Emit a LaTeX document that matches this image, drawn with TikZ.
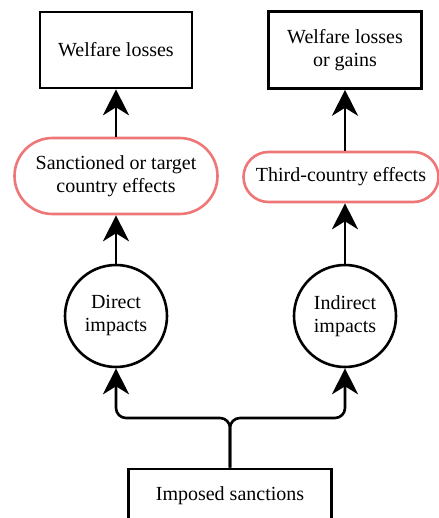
\documentclass[tikz,border=0pt]{standalone}
\usepackage{fontspec}
\setmainfont{Liberation Serif}
\usepackage{tikz}
\usetikzlibrary{arrows.meta}
\definecolor{fx_red}{RGB}{238, 118, 118}
\tikzstyle{box}=[rectangle,draw=black,line width=2.6pt,fill=white,
  align=center,font=\fontsize{20}{23}\selectfont,inner sep=2pt]
\tikzstyle{fx}=[rectangle,draw=fx_red,line width=2.6pt,fill=white,
  align=center,font=\fontsize{20}{23}\selectfont,inner sep=2pt]
\tikzstyle{imp}=[circle,draw=black,line width=2.6pt,fill=white,
  align=center,font=\fontsize{20}{23}\selectfont,inner sep=2pt,minimum size=102pt]
\tikzstyle{arr}=[line width=2.6pt,-{Stealth[length=26pt,width=26pt,inset=8pt]}]

\begin{document}
\begin{tikzpicture}[x=1pt,y=-1pt]
    \useasboundingbox (0,0) rectangle (438,518);
    \node [style=box,minimum width=152pt,minimum height=76pt] (wl) at (116,50) {Welfare losses};
    \node [style=box,minimum width=153pt,minimum height=77pt] (wg) at (345,50) {Welfare losses\\or gains};
    \node [style=fx,minimum width=203pt,minimum height=76pt,rounded corners=38pt] (target) at (116,176) {Sanctioned or target\\country effects};
    \node [style=fx,minimum width=195pt,minimum height=50pt,rounded corners=25pt] (third) at (341,177) {Third-country effects};
    \node [style=imp] (direct) at (116,316) {Direct\\impacts};
    \node [style=imp] (indirect) at (345,316) {Indirect\\impacts};
    \node [style=box,minimum width=203pt,minimum height=54pt] (imposed) at (230,496) {Imposed sanctions};
    \coordinate (split) at (230,418);
    \draw [style=arr] (target) to (wl);
    \draw [style=arr] (third.north -| wg.south) to (wg.south);
    \draw [style=arr] (direct) to (target);
    \draw [style=arr] (indirect) to (third.south -| indirect.north);
    \draw [style=arr,rounded corners=10pt] (imposed.north) |- (direct.south |- split) -- (direct.south);
    \draw [style=arr,rounded corners=10pt] (imposed.north) |- (indirect.south |- split) -- (indirect.south);
  \end{tikzpicture}
\end{document}
